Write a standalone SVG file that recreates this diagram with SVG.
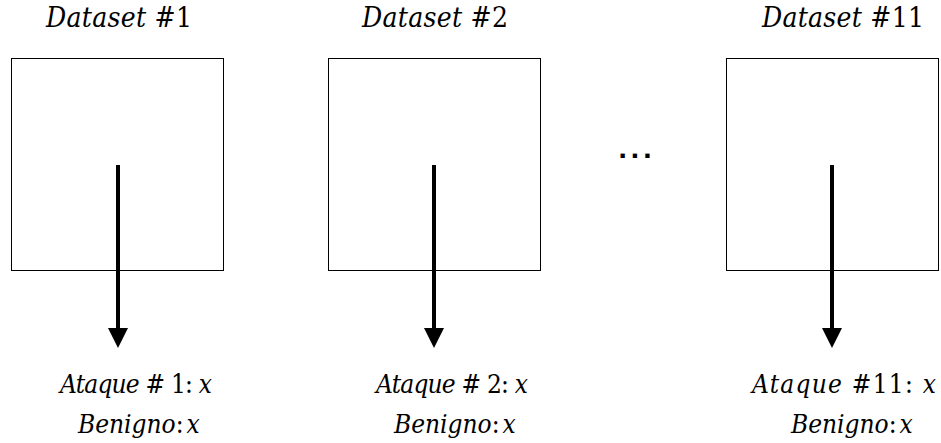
<svg xmlns="http://www.w3.org/2000/svg" width="941" height="443" viewBox="0 0 941 443">
  <style>
    .box { fill: #fff; stroke: #000; stroke-width: 1; }
    .lbl { font-family: "DejaVu Serif Condensed", "DejaVu Serif", serif; font-stretch: condensed; font-size: 26px; fill: #000; }
    .hdr { font-size: 28px; }
    .it { font-style: italic; }
    .shaft { stroke: #000; stroke-width: 4; }
    .head { fill: #000; }
    .dots { font-family: "Liberation Sans", Arial, sans-serif; font-weight: bold; font-size: 30px; letter-spacing: 4px; }
  </style>
  <rect width="941" height="443" fill="#fff"/>

  <g id="dataset1">
    <text class="lbl hdr" x="46" y="27" textLength="146" lengthAdjust="spacing"><tspan class="it">Dataset</tspan> #1</text>
    <rect class="box" x="11.5" y="58.5" width="212" height="212"/>
  </g>
  <g id="dataset2">
    <text class="lbl hdr" x="362" y="27" textLength="146" lengthAdjust="spacing"><tspan class="it">Dataset</tspan> #2</text>
    <rect class="box" x="328.5" y="58.5" width="212" height="212"/>
  </g>
  <g id="ellipsis">
    <text class="dots" x="637" y="158" text-anchor="middle">...</text>
  </g>
  <g id="dataset11">
    <text class="lbl hdr" x="762" y="27" textLength="162" lengthAdjust="spacing"><tspan class="it">Dataset</tspan> #11</text>
    <rect class="box" x="726.5" y="58.5" width="212" height="212"/>
  </g>

  <g id="result1">
    <text class="lbl" x="60" y="393" textLength="152" lengthAdjust="spacing"><tspan class="it">Ataque</tspan> # 1: <tspan class="it">x</tspan></text>
    <text class="lbl" x="78" y="433"><tspan class="it">Benigno</tspan>:<tspan class="it" dx="3">x</tspan></text>
  </g>
  <g id="result2">
    <text class="lbl" x="376" y="393" textLength="152" lengthAdjust="spacing"><tspan class="it">Ataque</tspan> # 2: <tspan class="it">x</tspan></text>
    <text class="lbl" x="394" y="433"><tspan class="it">Benigno</tspan>:<tspan class="it" dx="3">x</tspan></text>
  </g>
  <g id="result11">
    <text class="lbl" x="752" y="393" textLength="184" lengthAdjust="spacing"><tspan class="it">Ataque</tspan> #11: <tspan class="it">x</tspan></text>
    <text class="lbl" x="791" y="433"><tspan class="it">Benigno</tspan>:<tspan class="it" dx="3">x</tspan></text>
  </g>

  <g id="connectors">
    <line class="shaft" x1="118" y1="165" x2="118" y2="330"/>
    <polygon class="head" points="108,328 128,328 118,348"/>
    <line class="shaft" x1="434" y1="165" x2="434" y2="330"/>
    <polygon class="head" points="424,328 444,328 434,348"/>
    <line class="shaft" x1="832" y1="165" x2="832" y2="330"/>
    <polygon class="head" points="822,328 842,328 832,348"/>
  </g>
</svg>
